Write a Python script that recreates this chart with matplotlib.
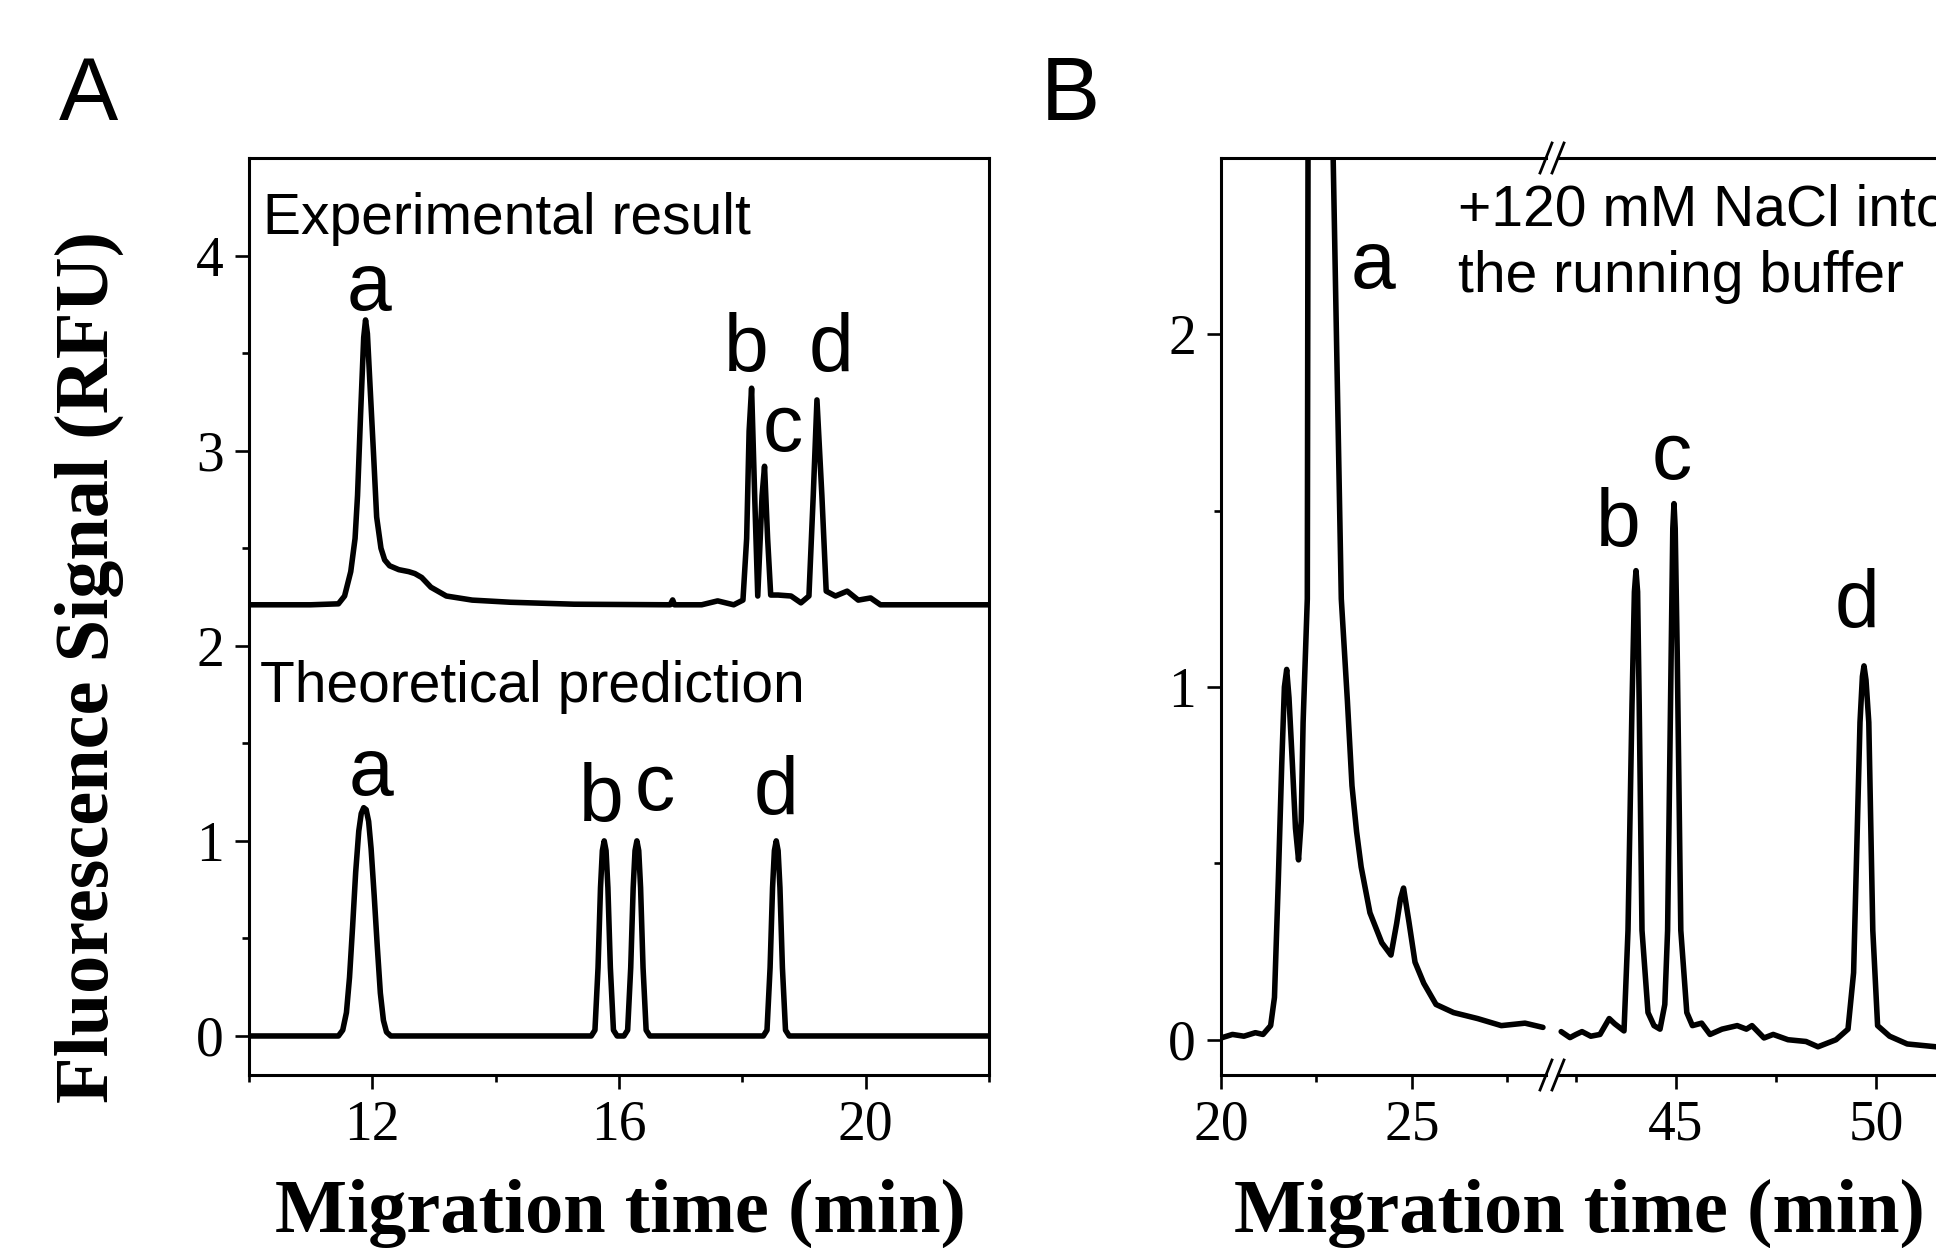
import matplotlib
matplotlib.use("Agg")
import matplotlib.pyplot as plt
from matplotlib.lines import Line2D
from matplotlib.ticker import FixedLocator

# ---- Panel A: experimental trace (baseline offset ~2.2 RFU) ----
exp_time = [10.0, 11.0, 11.45, 11.55, 11.65, 11.72, 11.76, 11.81, 11.86, 11.89,
            11.92, 11.96, 12.02, 12.07, 12.14, 12.2, 12.28, 12.43, 12.59, 12.69,
            12.8, 12.95, 13.2, 13.62, 14.24, 15.27, 16.83, 16.87, 16.9, 17.34,
            17.6, 17.86, 18.01, 18.07, 18.11, 18.15, 18.2, 18.25, 18.32, 18.36,
            18.41, 18.46, 18.58, 18.79, 18.95, 19.08, 19.15, 19.21, 19.29, 19.36,
            19.51, 19.7, 19.88, 20.08, 20.24, 21.0, 22.0]
exp_signal = [2.21, 2.21, 2.215, 2.255, 2.38, 2.55, 2.77, 3.19, 3.58, 3.67,
              3.6, 3.35, 2.98, 2.66, 2.5, 2.44, 2.41, 2.39, 2.38, 2.37,
              2.35, 2.30, 2.255, 2.234, 2.223, 2.213, 2.21, 2.235, 2.21, 2.21,
              2.23, 2.21, 2.234, 2.55, 3.1, 3.32, 2.77, 2.255, 2.77, 2.92,
              2.55, 2.26, 2.26, 2.255, 2.22, 2.255, 2.77, 3.26, 2.77, 2.28,
              2.255, 2.28, 2.234, 2.245, 2.21, 2.21, 2.21]

# ---- Panel A: theoretical prediction ----
theo_time = [10.0, 11.45, 11.52, 11.58, 11.63, 11.68, 11.73, 11.78, 11.82, 11.86,
             11.9, 11.94, 11.98, 12.03, 12.08, 12.13, 12.18, 12.23, 12.3,
             15.55, 15.61, 15.66, 15.7, 15.73, 15.76, 15.79, 15.82, 15.86, 15.91, 15.97,
             16.08, 16.14, 16.19, 16.23, 16.26, 16.29, 16.32, 16.35, 16.39, 16.44, 16.5,
             18.34, 18.4, 18.45, 18.49, 18.52, 18.55, 18.58, 18.61, 18.65, 18.7, 18.76,
             22.0]
theo_signal = [0.0, 0.0, 0.03, 0.12, 0.3, 0.56, 0.84, 1.05, 1.14, 1.17,
               1.16, 1.1, 0.96, 0.72, 0.46, 0.22, 0.08, 0.02, 0.0,
               0.0, 0.03, 0.35, 0.76, 0.95, 1.0, 0.95, 0.76, 0.35, 0.03, 0.0,
               0.0, 0.03, 0.35, 0.76, 0.95, 1.0, 0.95, 0.76, 0.35, 0.03, 0.0,
               0.0, 0.03, 0.35, 0.76, 0.95, 1.0, 0.95, 0.76, 0.35, 0.03, 0.0,
               0.0]

# ---- Panel B: 20-28.5 min segment ----
b1_time = [20.0, 20.3, 20.6, 20.9, 21.1, 21.3, 21.4, 21.5, 21.59, 21.66,
           21.72, 21.78, 21.87, 21.95, 22.03, 22.1, 22.15, 22.26, 22.28, 22.6,
           22.92, 23.15, 23.31, 23.43, 23.55, 23.67, 23.9, 24.21, 24.45, 24.6,
           24.7, 24.78, 24.92, 25.08, 25.31, 25.63, 26.09, 26.72, 27.34, 27.96,
           28.43]
b1_signal = [0.005, 0.015, 0.01, 0.02, 0.015, 0.04, 0.12, 0.45, 0.78, 1.0,
             1.05, 0.97, 0.78, 0.6, 0.51, 0.62, 0.9, 1.25, 2.6, 6.0,
             2.6, 1.25, 0.96, 0.72, 0.59, 0.49, 0.36, 0.275, 0.24, 0.33,
             0.4, 0.43, 0.335, 0.22, 0.16, 0.10, 0.077, 0.06, 0.04, 0.047,
             0.035]

# ---- Panel B: 42-54 min segment ----
b2_time = [42.13, 42.35, 42.5, 42.65, 42.87, 43.1, 43.33, 43.47, 43.7, 43.8,
           43.9, 43.96, 44.0, 44.04, 44.08, 44.15, 44.3, 44.45, 44.6, 44.72,
           44.79, 44.88, 44.92, 44.95, 44.98, 45.03, 45.12, 45.27, 45.41, 45.64,
           45.85, 46.15, 46.53, 46.76, 46.9, 47.2, 47.43, 47.8, 48.25, 48.55,
           49.0, 49.3, 49.44, 49.6, 49.66, 49.7, 49.75, 49.82, 49.92, 50.04,
           50.34, 50.78, 51.5, 52.5, 53.5]
b2_signal = [0.023, 0.006, 0.015, 0.023, 0.01, 0.015, 0.06, 0.045, 0.025, 0.31,
             0.95, 1.27, 1.33, 1.27, 0.95, 0.31, 0.077, 0.04, 0.03, 0.1,
             0.31, 1.1, 1.45, 1.52, 1.45, 1.1, 0.31, 0.077, 0.04, 0.047,
             0.015, 0.03, 0.04, 0.03, 0.04, 0.005, 0.015, 0.0, -0.005, -0.02,
             0.0, 0.03, 0.19, 0.9, 1.03, 1.06, 1.02, 0.9, 0.31, 0.04,
             0.01, -0.012, -0.02, -0.02, -0.02]

# peak letters (x, baseline y)
peaks_exp = [("a", 11.94, 3.72), ("b", 18.07, 3.41), ("c", 18.66, 3.0), ("d", 19.43, 3.41)]
peaks_theo = [("a", 11.98, 1.235), ("b", 15.72, 1.1), ("c", 16.58, 1.16), ("d", 18.54, 1.14)]
peaks_b1 = [("a", 23.98, 2.13)]
peaks_b2 = [("b", 43.55, 1.40), ("c", 44.89, 1.59), ("d", 49.52, 1.17)]

W, H = 1936, 1248
SERIF = "Liberation Serif"
SANS = "Liberation Sans"
plt.rcParams["font.family"] = SERIF
plt.rcParams["axes.linewidth"] = 2.2

LW = 4.0
TICK = 40
LETTER = 58
NOTE = 41
LABEL = 55


def px_axes(fig, x0, y0, x1, y1):
    return fig.add_axes([x0 / W, 1 - y1 / H, (x1 - x0) / W, (y1 - y0) / H])


def style_ticks(ax):
    ax.tick_params(which="both", direction="out", top=False, right=False,
                   labelsize=TICK, width=1.9)
    ax.tick_params(which="major", length=10, pad=8)
    ax.tick_params(which="minor", length=5)


def trace(ax, x, y):
    ax.plot(x, y, color="black", lw=LW, solid_joinstyle="round", solid_capstyle="round")


fig = plt.figure(figsize=(W / 100, H / 100), dpi=100)

# ---------------- Panel A ----------------
ax_a = px_axes(fig, 249, 158, 989, 1075)
trace(ax_a, exp_time, exp_signal)
trace(ax_a, theo_time, theo_signal)
ax_a.set_xlim(10, 22)
ax_a.set_ylim(-0.2, 4.5)
ax_a.xaxis.set_major_locator(FixedLocator([12, 16, 20]))
ax_a.xaxis.set_minor_locator(FixedLocator([10, 14, 18, 22]))
ax_a.yaxis.set_major_locator(FixedLocator([0, 1, 2, 3, 4]))
ax_a.yaxis.set_minor_locator(FixedLocator([0.5, 1.5, 2.5, 3.5]))
style_ticks(ax_a)
ax_a.text(10.22, 4.11, "Experimental result", family=SANS, fontsize=NOTE, va="baseline")
ax_a.text(10.18, 1.71, "Theoretical prediction", family=SANS, fontsize=NOTE, va="baseline")
for lab, x, y in peaks_exp + peaks_theo:
    ax_a.text(x, y, lab, family=SANS, fontsize=LETTER, ha="center", va="baseline")

# ---------------- Panel B (broken x axis) ----------------
ax_b1 = px_axes(fig, 1221, 158, 1546, 1075)
ax_b2 = px_axes(fig, 1558, 158, 2036, 1075)
for ax in (ax_b1, ax_b2):
    ax.patch.set_alpha(0)
    ax.set_ylim(-0.1, 2.5)
trace(ax_b1, b1_time, b1_signal)
trace(ax_b2, b2_time, b2_signal)
ax_b1.set_xlim(20, 28.51)
ax_b2.set_xlim(42.05, 54)
ax_b1.spines["right"].set_visible(False)
ax_b2.spines["left"].set_visible(False)
ax_b1.xaxis.set_major_locator(FixedLocator([20, 25]))
ax_b1.xaxis.set_minor_locator(FixedLocator([22.5, 27.5]))
ax_b2.xaxis.set_major_locator(FixedLocator([45, 50]))
ax_b2.xaxis.set_minor_locator(FixedLocator([42.5, 47.5, 52.5]))
ax_b1.yaxis.set_major_locator(FixedLocator([0, 1, 2]))
ax_b1.yaxis.set_minor_locator(FixedLocator([0.5, 1.5]))
style_ticks(ax_b1)
style_ticks(ax_b2)
ax_b2.tick_params(which="both", left=False, labelleft=False)

for lab, x, y in peaks_b1:
    ax_b1.text(x, y, lab, family=SANS, fontsize=LETTER, ha="center", va="baseline")
for lab, x, y in peaks_b2:
    ax_b2.text(x, y, lab, family=SANS, fontsize=LETTER, ha="center", va="baseline")
ax_b1.text(26.2, 2.31, "+120 mM NaCl into", family=SANS, fontsize=NOTE, va="baseline")
ax_b1.text(26.2, 2.12, "the running buffer", family=SANS, fontsize=NOTE, va="baseline")

# break marks on top and bottom spines
for cx in (1546, 1558):
    for cy in (158, 1075):
        fig.add_artist(Line2D([(cx - 6) / W, (cx + 6) / W],
                              [1 - (cy + 15) / H, 1 - (cy - 15) / H],
                              color="black", lw=2.0))

# ---------------- labels ----------------
fig.text(620 / W, 1 - 1232 / H, "Migration time (min)", fontsize=LABEL,
         fontweight="bold", ha="center", va="baseline")
fig.text(1579 / W, 1 - 1232 / H, "Migration time (min)", fontsize=LABEL,
         fontweight="bold", ha="center", va="baseline")
fig.text(89 / W, 1 - 667 / H, "Fluorescence Signal (RFU)", fontsize=LABEL,
         fontweight="bold", rotation=90, ha="center", va="center")
fig.text(59 / W, 1 - 120 / H, "A", family=SANS, fontsize=64, va="baseline")
fig.text(1041 / W, 1 - 120 / H, "B", family=SANS, fontsize=64, va="baseline")

fig.savefig("out.png", dpi=100, facecolor="white")
